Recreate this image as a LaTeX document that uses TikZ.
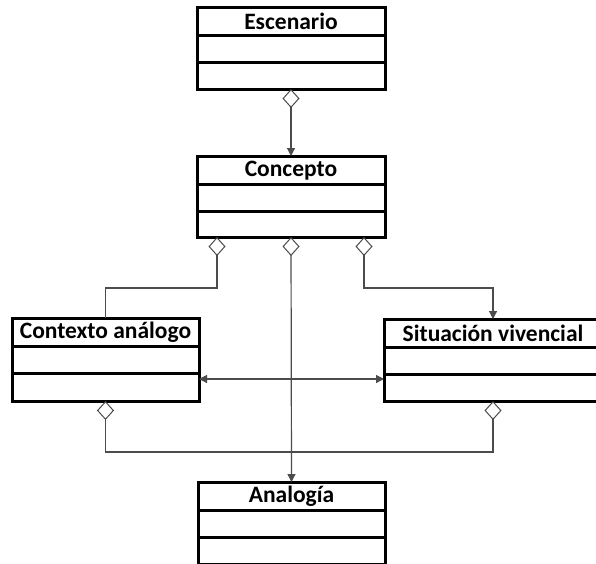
\documentclass[tikz,border=0pt]{standalone}
\usepackage{fontspec}
\setmainfont{Carlito}
\usetikzlibrary{arrows.meta,calc}
\tikzset{
  classbox/.style={draw=black,line width=3pt,fill=white,inner sep=0pt,outer sep=0pt},
  classtitle/.style={inner sep=0pt,font=\fontsize{23.5}{27}\selectfont\bfseries},
  sepline/.style={draw=black,line width=3pt},
  conn/.style={draw=black!70,line width=1.2pt},
}
\newcommand\umlbox[6]{%
  \node[classbox,minimum width=#4,minimum height=#5] (#1) at (#2,#3) {};
  \node[classtitle] (#1-t) at ($(#1.north)+(0,14.5)$) {#6};
  \draw[sepline] ($(#1.north west)+(0,28)$) -- ($(#1.north east)+(0,28)$);
  \draw[sepline] ($(#1.north west)+(0,55)$) -- ($(#1.north east)+(0,55)$);
}
\begin{document}
\begin{tikzpicture}[x=1pt,y=-1pt]
\useasboundingbox (0,0) rectangle (596,563);
\fill[white] (0,0) rectangle (596,563);
\clip (0,0) rectangle (596,563);
\umlbox{esc}{291}{48}{188}{82}{Escenario}
\umlbox{conc}{291}{196.5}{188}{81}{Concepto}
\umlbox{ctx}{105.5}{359.5}{187}{83}{Contexto análogo}
\umlbox{sit}{493}{360}{218}{82}{Situación vivencial}
\umlbox{ana}{291.5}{523}{187}{82}{Analogía}
\coordinate (cl) at ($(conc.south west)+(20,0)$);
\coordinate (cr) at ($(conc.south east)+(-21,0)$);
\coordinate (ctxe) at ($(ctx.east)+(0,19.5)$);
% Escenario -> Concepto
\draw[conn,{Diamond[open,length=19pt,width=17pt,line width=1pt]}-{Triangle[length=8pt,width=8pt]}] (esc.south) -- (conc.north);
% Concepto -> Contexto
\draw[conn,{Diamond[open,length=19pt,width=17pt,line width=1pt]}-] (cl) -- (cl |- 0,288) -- (ctx.north |- 0,288) -- (ctx.north);
% Concepto -> Analogia
\draw[conn,{Diamond[open,length=19pt,width=17pt,line width=1pt]}-{Triangle[length=8pt,width=8pt]}] (conc.south) -- (ana.north);
% Concepto -> Situacion
\draw[conn,{Diamond[open,length=19pt,width=17pt,line width=1pt]}-{Triangle[length=8pt,width=8pt]}] (cr) -- (cr |- 0,288) -- (sit.north |- 0,288) -- (sit.north);
% Contexto <-> Situacion
\draw[conn,{Triangle[length=8pt,width=8pt]}-{Triangle[length=8pt,width=8pt]}] (ctxe) -- (ctxe -| sit.west);
% bottom link
\draw[conn,{Diamond[open,length=19pt,width=17pt,line width=1pt]}-{Diamond[open,length=19pt,width=17pt,line width=1pt]}] (ctx.south) -- (ctx.south |- 0,452) -- (sit.south |- 0,452) -- (sit.south);
\end{tikzpicture}
\end{document}
